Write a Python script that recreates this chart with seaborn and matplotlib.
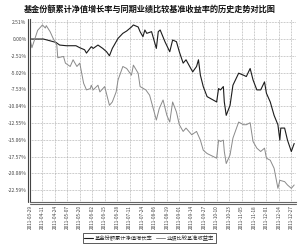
import matplotlib
matplotlib.use("Agg")
import matplotlib.pyplot as plt
import matplotlib.transforms as mtrans
from matplotlib.lines import Line2D
import seaborn as sns
import pandas as pd

# ---- data ----
title = "基金份额累计净值增长率与同期业绩比较基准收益率的历史走势对比图"
series_names = ["基金份额累计净值增长率", "业绩比较基准收益率"]

fund_dates = [
    "2011-03-29", "2011-04-12", "2011-04-25", "2011-04-29", "2011-05-06", "2011-05-16",
    "2011-05-20", "2011-05-25", "2011-05-27", "2011-06-01", "2011-06-03", "2011-06-08",
    "2011-06-13", "2011-06-17", "2011-06-20", "2011-06-23", "2011-06-29", "2011-07-04",
    "2011-07-08", "2011-07-13", "2011-07-15", "2011-07-20", "2011-07-22", "2011-07-25",
    "2011-07-27", "2011-07-29", "2011-08-03", "2011-08-08", "2011-08-10", "2011-08-12",
    "2011-08-17", "2011-08-22", "2011-08-25", "2011-08-29", "2011-09-01", "2011-09-05",
    "2011-09-08", "2011-09-13", "2011-09-15", "2011-09-19", "2011-09-21", "2011-09-23",
    "2011-09-26", "2011-09-30", "2011-10-10", "2011-10-12", "2011-10-14", "2011-10-17",
    "2011-10-18", "2011-10-20", "2011-10-24", "2011-10-27", "2011-11-02", "2011-11-07",
    "2011-11-10", "2011-11-14", "2011-11-17", "2011-11-21", "2011-11-25", "2011-11-29",
    "2011-12-01", "2011-12-05", "2011-12-09", "2011-12-13", "2011-12-15", "2011-12-16",
    "2011-12-20", "2011-12-23", "2011-12-27", "2011-12-30",
]
fund_values = [
    0.00, 0.00, -0.50, -0.90, -1.00, -1.00,
    -1.30, -1.60, -2.10, -1.15, -1.40, -0.90,
    -1.40, -1.90, -2.50, -1.40, 0.10, 0.85,
    1.20, 1.80, 2.10, 1.80, 1.10, 0.35,
    1.35, 0.85, 1.10, -1.40, 1.10, 1.35,
    -0.40, -1.90, -0.15, -0.40, -1.90, -3.60,
    -3.10, -4.40, -4.90, -4.10, -3.10, -5.40,
    -7.10, -8.60, -9.40, -7.40, -7.60, -7.10,
    -9.40, -11.40, -9.90, -6.90, -5.10, -5.40,
    -5.60, -4.40, -6.10, -7.60, -7.60, -6.40,
    -8.10, -9.40, -11.40, -12.80, -15.10, -13.30,
    -13.30, -15.10, -16.80, -15.60,
]

bench_dates = [
    "2011-03-29", "2011-03-31", "2011-04-06", "2011-04-11", "2011-04-14", "2011-04-15",
    "2011-04-19", "2011-04-22", "2011-04-26", "2011-04-27", "2011-05-03", "2011-05-05",
    "2011-05-10", "2011-05-13", "2011-05-17", "2011-05-20", "2011-05-24", "2011-05-27",
    "2011-05-31", "2011-06-01", "2011-06-03", "2011-06-08", "2011-06-10", "2011-06-15",
    "2011-06-20", "2011-06-23", "2011-06-27", "2011-06-29", "2011-07-04", "2011-07-08",
    "2011-07-13", "2011-07-15", "2011-07-20", "2011-07-22", "2011-07-28", "2011-08-01",
    "2011-08-08", "2011-08-11", "2011-08-15", "2011-08-19", "2011-08-22", "2011-08-25",
    "2011-08-29", "2011-09-01", "2011-09-05", "2011-09-08", "2011-09-14", "2011-09-19",
    "2011-09-23", "2011-09-26", "2011-09-30", "2011-10-10", "2011-10-12", "2011-10-14",
    "2011-10-17", "2011-10-18", "2011-10-20", "2011-10-24", "2011-10-27", "2011-11-02",
    "2011-11-07", "2011-11-10", "2011-11-14", "2011-11-17", "2011-11-21", "2011-11-25",
    "2011-11-29", "2011-12-01", "2011-12-05", "2011-12-09", "2011-12-13", "2011-12-15",
    "2011-12-20", "2011-12-23", "2011-12-27", "2011-12-30",
]
bench_values = [
    0.00, -1.30, 1.30, 2.10, 1.65, 2.00,
    1.10, 0.15, -0.90, -2.80, -2.60, -3.60,
    -4.10, -3.10, -4.10, -3.60, -6.60, -7.60,
    -7.40, -6.90, -7.60, -6.90, -7.90, -7.10,
    -9.90, -9.40, -7.90, -6.10, -4.10, -4.40,
    -5.40, -3.90, -5.10, -7.10, -7.60, -8.40,
    -12.10, -10.40, -9.10, -11.40, -12.40, -9.40,
    -10.90, -12.80, -13.80, -13.30, -14.30, -13.80,
    -15.10, -16.60, -17.10, -17.80, -15.10, -15.30,
    -15.10, -16.80, -18.60, -17.30, -14.80, -12.40,
    -12.80, -12.80, -12.50, -15.30, -16.30, -16.80,
    -16.30, -17.80, -18.10, -19.30, -22.30, -21.10,
    -21.30, -21.80, -22.30, -21.80,
]

y_ticks = [2.51, 0.00, -2.51, -5.02, -7.53, -10.04, -12.55, -15.06, -17.57, -20.08, -22.59]
y_tick_labels = ["2.51%", "0.00%", "-2.51%", "-5.02%", "-7.53%", "-10.04%", "-12.55%",
                 "-15.06%", "-17.57%", "-20.08%", "-22.59%"]
x_tick_labels = [
    "2011-03-29", "2011-04-11", "2011-04-24", "2011-05-07", "2011-05-20", "2011-06-02",
    "2011-06-15", "2011-06-28", "2011-07-11", "2011-07-24", "2011-08-06", "2011-08-19",
    "2011-09-01", "2011-09-14", "2011-09-27", "2011-10-10", "2011-10-23", "2011-11-05",
    "2011-11-18", "2011-12-01", "2011-12-14", "2011-12-27",
]

# ---- figure ----
sns.set_style("white")
plt.rcParams["font.family"] = ["Noto Sans CJK SC", "DejaVu Sans"]
plt.rcParams["axes.unicode_minus"] = False

fig = plt.figure(figsize=(3.0, 2.46), dpi=100)
ax = fig.add_axes([0.10, 0.18, 0.887, 0.743])

df_f = pd.DataFrame({"date": pd.to_datetime(fund_dates), "value": fund_values})
df_b = pd.DataFrame({"date": pd.to_datetime(bench_dates), "value": bench_values})

sns.lineplot(data=df_f, x="date", y="value", ax=ax, color="#1c1c1c", lw=0.8,
             label=series_names[0], legend=False)
sns.lineplot(data=df_b, x="date", y="value", ax=ax, color="#8a8a8a", lw=0.7,
             label=series_names[1], legend=False)

ax.set_xlim(pd.Timestamp("2011-03-29"), pd.Timestamp("2012-01-01"))
ax.set_ylim(-24.3, 3.0)
ax.set_yticks(y_ticks)
ax.set_yticklabels(y_tick_labels, fontsize=3.6, color="#444444")
ax.set_xticks(pd.to_datetime(x_tick_labels))
ax.set_xticklabels(x_tick_labels, rotation=90, fontsize=3.4, color="#444444")
ax.tick_params(axis="both", length=0, pad=2.5)
ax.set_xlabel("")
ax.set_ylabel("")

ax.grid(True, color="#9a9a9a", linestyle=(0, (1, 1.2)), linewidth=0.5)
for side in ["top", "right"]:
    ax.spines[side].set_visible(False)
ax.spines["left"].set_linewidth(0.8)
ax.spines["left"].set_color("#444444")
ax.spines["bottom"].set_linewidth(0.8)
ax.spines["bottom"].set_color("#666666")

# second (outer) line of the double axis frame
off_left = mtrans.offset_copy(ax.transAxes, fig=fig, x=-1.6, y=0, units="points")
off_bot = mtrans.offset_copy(ax.transAxes, fig=fig, x=0, y=-1.6, units="points")
ax.add_line(Line2D([0, 0], [0, 1], transform=off_left, color="#444444", lw=0.8,
                   clip_on=False))
ax.add_line(Line2D([0, 1], [0, 0], transform=off_bot, color="#666666", lw=0.8,
                   clip_on=False))

fig.text(0.5, 1 - 9 / 246, title, ha="center", va="center", fontsize=5.9,
         fontweight="bold", color="#111111")

handles, labels = ax.get_legend_handles_labels()
leg = fig.legend(handles, labels, loc="center", bbox_to_anchor=(0.497, 0.033), ncol=2,
                 fontsize=3.8, frameon=True, fancybox=False, edgecolor="#111111",
                 handlelength=1.6, handletextpad=0.3, columnspacing=0.8,
                 borderpad=0.35)
leg.get_frame().set_linewidth(0.6)

fig.savefig("out.png", dpi=100)
